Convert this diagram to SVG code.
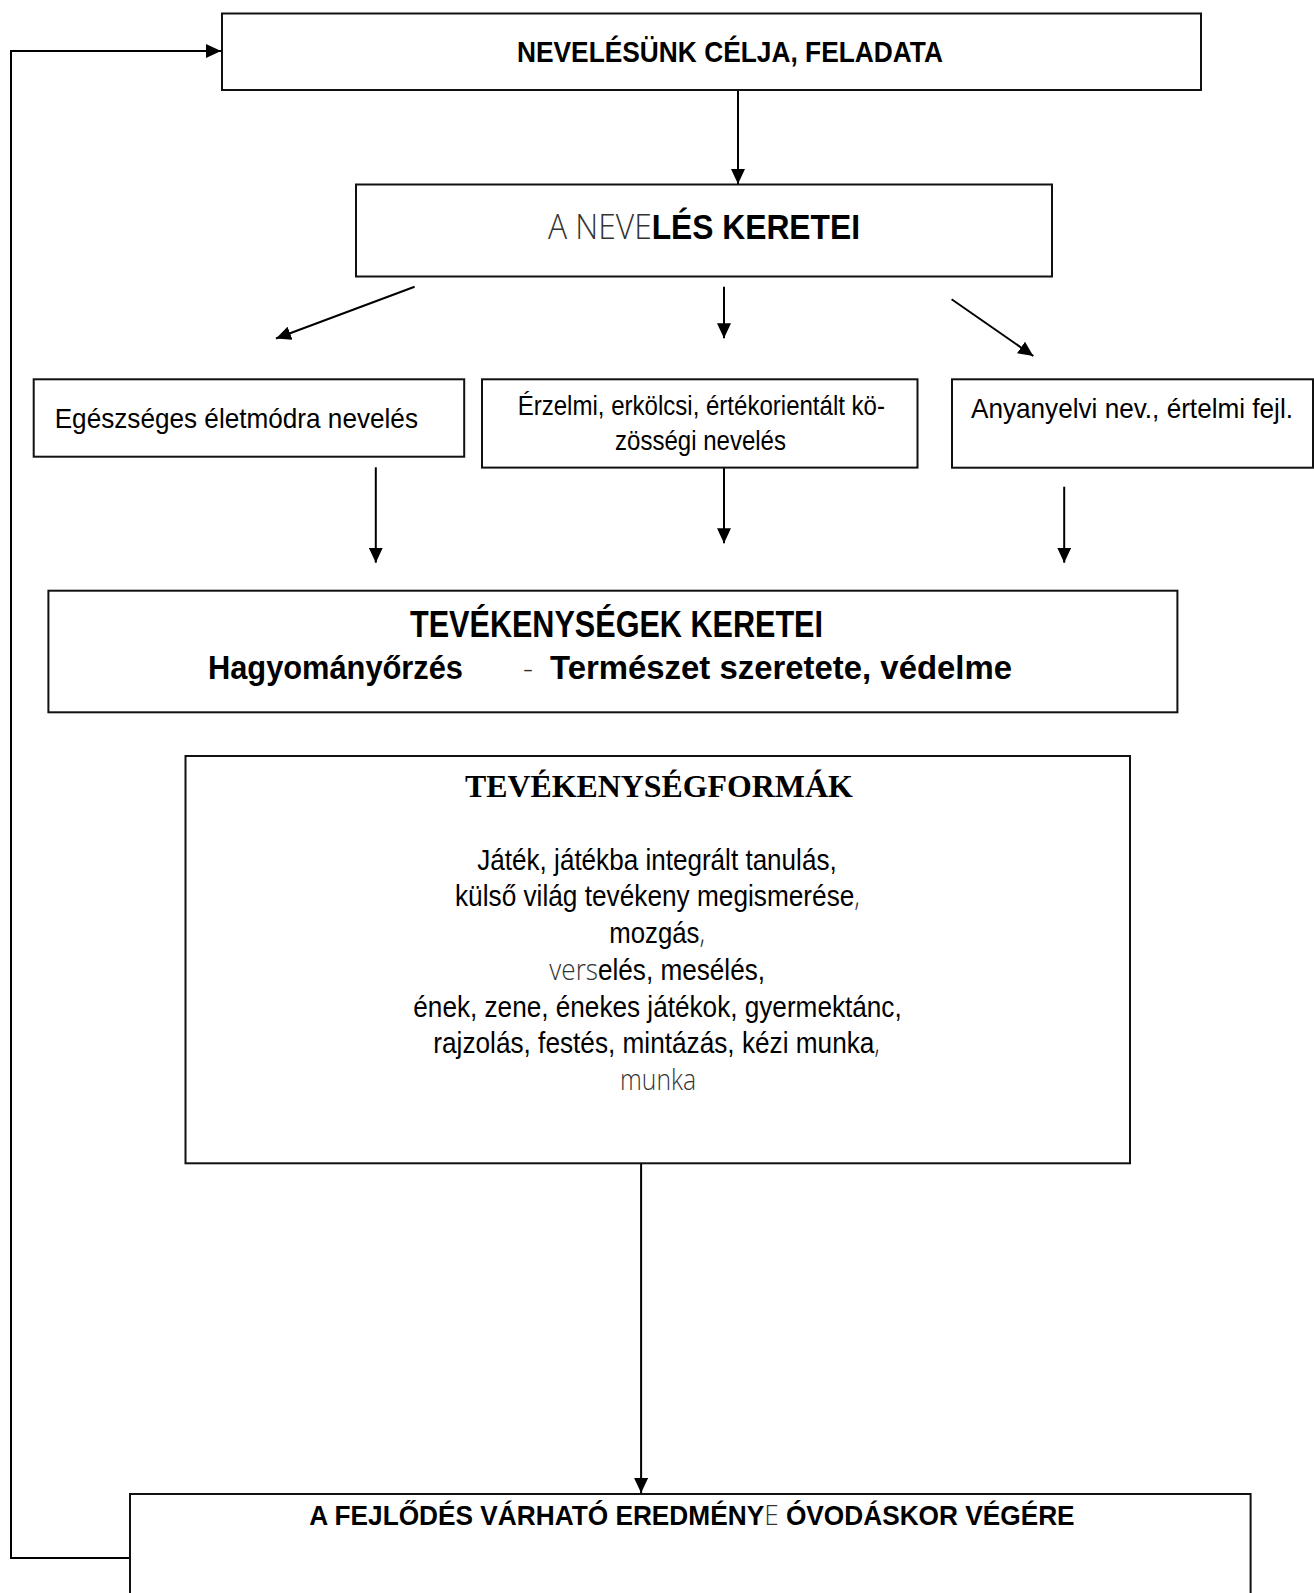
<svg xmlns="http://www.w3.org/2000/svg" width="1314" height="1593" viewBox="0 0 1314 1593">
<style>
.box{fill:#fff;stroke:#111;stroke-width:2}
.con{fill:none;stroke:#000;stroke-width:2}
.t{font-family:"Liberation Sans",Arial,sans-serif;fill:#000}
.b{font-weight:bold}
.lt{font-family:"Open Sans","Lato","Liberation Sans",sans-serif;font-weight:300;fill:#333}
.tm{font-family:"Liberation Serif","Times New Roman",serif;font-weight:bold;fill:#000}
</style>
<defs>
<marker id="ah" markerUnits="userSpaceOnUse" markerWidth="16" markerHeight="14" refX="15" refY="7" orient="auto">
<path d="M0,0 L15,7 L0,14 z" fill="#000"/>
</marker>
</defs>
<rect width="1314" height="1593" fill="#fff"/>
<g id="connectors">
<polyline class="con" points="129,1558 11,1558 11,51 221,51" marker-end="url(#ah)"/>
<line class="con" x1="414.6" y1="286.7" x2="276" y2="338.5" marker-end="url(#ah)"/>
<line class="con" x1="738" y1="90" x2="738" y2="184" marker-end="url(#ah)"/>
<line class="con" x1="724" y1="286.7" x2="724" y2="338.3" marker-end="url(#ah)"/>
<line class="con" x1="951.6" y1="299.3" x2="1033.3" y2="356" marker-end="url(#ah)"/>
<line class="con" x1="375.8" y1="467.3" x2="375.8" y2="562.7" marker-end="url(#ah)"/>
<line class="con" x1="724" y1="468" x2="724" y2="543.3" marker-end="url(#ah)"/>
<line class="con" x1="1064.2" y1="486.7" x2="1064.2" y2="562.7" marker-end="url(#ah)"/>
<line class="con" x1="641.1" y1="1163.3" x2="641.1" y2="1493" marker-end="url(#ah)"/>
</g>
<g id="node-cel">
<rect class="box" x="222" y="13.5" width="979" height="76.5"/>
<text class="t b" x="517" y="62" font-size="30" textLength="426" lengthAdjust="spacingAndGlyphs">NEVELÉSÜNK CÉLJA, FELADATA</text>
</g>
<g id="node-keretei">
<rect class="box" x="356" y="184.5" width="696" height="92"/>
<text class="t b" x="548" y="239.3" font-size="35" textLength="312" lengthAdjust="spacingAndGlyphs"><tspan class="lt">A NEVE</tspan>LÉS KERETEI</text>
</g>
<g id="node-egeszseges">
<rect class="box" x="33.7" y="379.3" width="430.5" height="77.4"/>
<text class="t" x="54.7" y="428.3" font-size="28" textLength="363.3" lengthAdjust="spacingAndGlyphs">Egészséges életmódra nevelés</text>
</g>
<g id="node-erzelmi">
<rect class="box" x="482" y="379.3" width="435.5" height="88.3"/>
<text class="t" x="517.7" y="415" font-size="27.5" textLength="367.3" lengthAdjust="spacingAndGlyphs">Érzelmi, erkölcsi, értékorientált kö-</text>
<text class="t" x="615" y="449.5" font-size="27.5" textLength="171" lengthAdjust="spacingAndGlyphs">zösségi nevelés</text>
</g>
<g id="node-anyanyelvi">
<rect class="box" x="952" y="379.3" width="361" height="88.4"/>
<text class="t" x="971" y="418" font-size="28" textLength="322" lengthAdjust="spacingAndGlyphs">Anyanyelvi nev., értelmi fejl.</text>
</g>
<g id="node-tevekenysegek-keretei">
<rect class="box" x="48.4" y="590.7" width="1129" height="121.6"/>
<text class="t b" x="410" y="637" font-size="36" textLength="413" lengthAdjust="spacingAndGlyphs">TEVÉKENYSÉGEK KERETEI</text>
<text class="t b" x="208" y="679" font-size="33" textLength="255" lengthAdjust="spacingAndGlyphs">Hagyományőrzés</text>
<text class="lt" x="523" y="679" font-size="31">-</text>
<text class="t b" x="550" y="679" font-size="33" textLength="462" lengthAdjust="spacingAndGlyphs">Természet szeretete, védelme</text>
</g>
<g id="node-tevekenysegformak">
<rect class="box" x="185.5" y="756" width="944.5" height="407.3"/>
<text class="tm" x="465" y="796.7" font-size="32" textLength="387.7" lengthAdjust="spacingAndGlyphs">TEVÉKENYSÉGFORMÁK</text>
<text class="t" x="477.3" y="870" font-size="30" textLength="359.4" lengthAdjust="spacingAndGlyphs">Játék, játékba integrált tanulás,</text>
<text class="t" x="455" y="906" font-size="30" textLength="405" lengthAdjust="spacingAndGlyphs">külső világ tevékeny megismerése<tspan class="lt">,</tspan></text>
<text class="t" x="609.3" y="943.3" font-size="30" textLength="95.7" lengthAdjust="spacingAndGlyphs">mozgás<tspan class="lt">,</tspan></text>
<text class="t" x="549.3" y="980" font-size="30" textLength="215.7" lengthAdjust="spacingAndGlyphs"><tspan class="lt">vers</tspan>elés, mesélés,</text>
<text class="t" x="413.3" y="1016.7" font-size="30" textLength="488.4" lengthAdjust="spacingAndGlyphs">ének, zene, énekes játékok, gyermektánc,</text>
<text class="t" x="433.3" y="1053.3" font-size="30" textLength="446.7" lengthAdjust="spacingAndGlyphs">rajzolás, festés, mintázás, kézi munka<tspan class="lt">,</tspan></text>
<text class="lt" x="620" y="1090" font-size="30" textLength="76" lengthAdjust="spacingAndGlyphs">munka</text>
</g>
<g id="node-eredmeny">
<rect class="box" x="130" y="1494" width="1120.6" height="120"/>
<text class="t b" x="309.3" y="1525" font-size="28" textLength="765.3" lengthAdjust="spacingAndGlyphs">A FEJLŐDÉS VÁRHATÓ EREDMÉNY<tspan class="lt">E</tspan> ÓVODÁSKOR VÉGÉRE</text>
</g>
</svg>
